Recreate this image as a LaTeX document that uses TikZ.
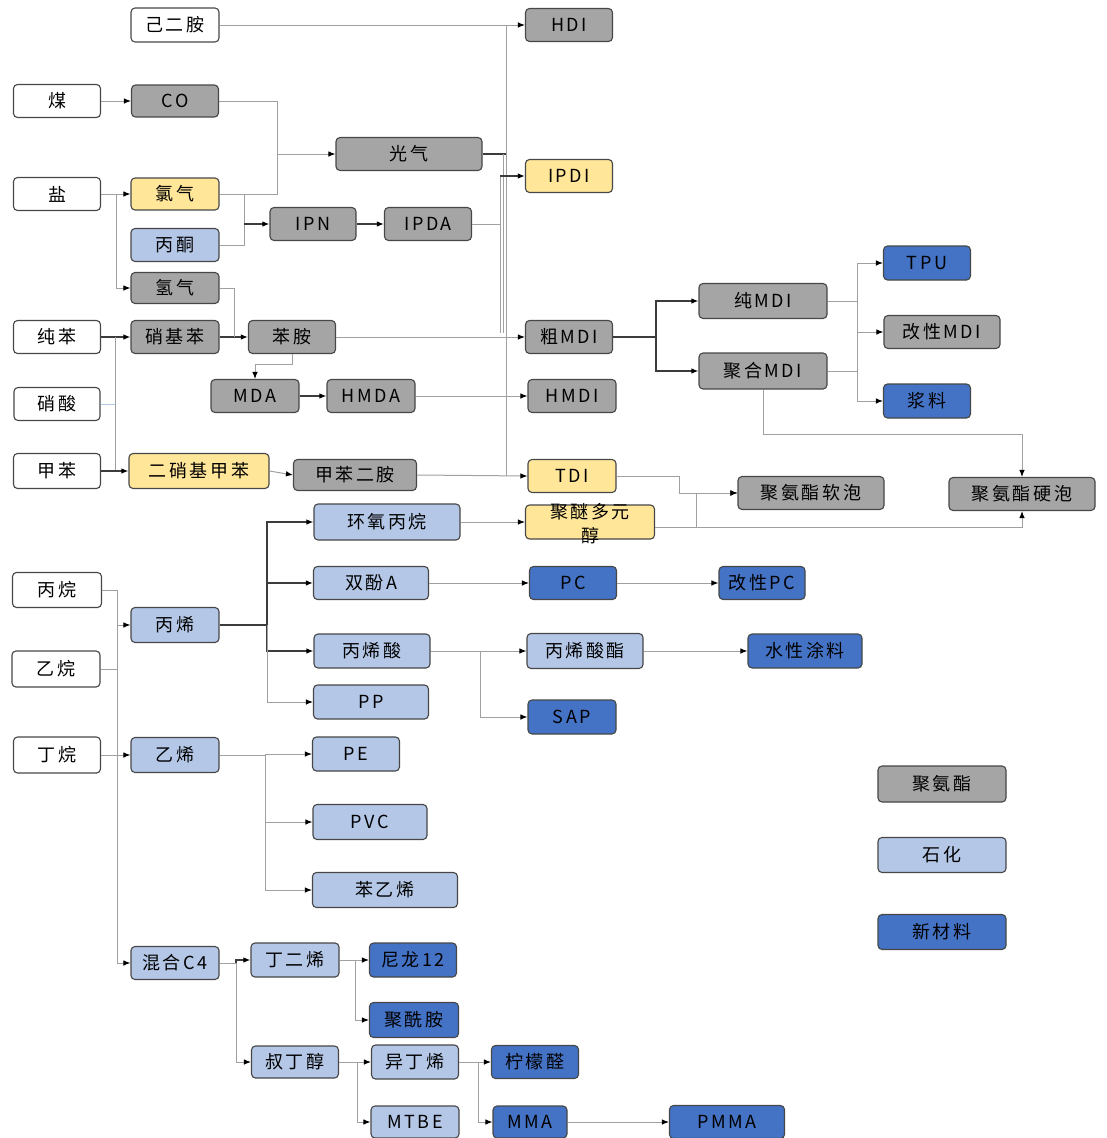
\documentclass[tikz,border=0pt]{standalone}
\usepackage{fontspec}
\newfontfamily\cjk[LetterSpace=14]{Noto Sans CJK SC}
\usetikzlibrary{arrows.meta}
\definecolor{boxgray}{RGB}{165,165,165}
\definecolor{boxyel}{RGB}{255,230,153}
\definecolor{boxlb}{RGB}{180,199,231}
\definecolor{boxblue}{RGB}{68,114,196}
\definecolor{linegray}{RGB}{160,160,160}
\definecolor{linedark}{RGB}{60,60,60}
\definecolor{linelb}{RGB}{180,199,231}
\tikzset{
  base/.style={draw=black!72, rounded corners=4pt, line width=1.1pt, inner sep=0pt,
    font=\cjk\fontsize{18}{22}\selectfont, text=black},
  wbox/.style={base, fill=white},
  gbox/.style={base, fill=boxgray},
  ybox/.style={base, fill=boxyel},
  lbox/.style={base, fill=boxlb},
  bbox/.style={base, fill=boxblue},
  sz/.style 2 args={minimum width=#1pt, minimum height=#2pt},
  lc/.style={draw=linegray, line width=1pt},
  dc/.style={draw=linedark, line width=1.3pt},
  lbl/.style={draw=linelb, line width=1pt},
  arr/.style={-{Latex[length=7pt,width=5.5pt,color=black]}},
}
\begin{document}
\begin{tikzpicture}[x=1pt,y=-1pt]
\useasboundingbox (0,0) rectangle (1107,1138);
% ---------- nodes ----------
\node[wbox,sz={88}{34}] (jej) at (175,25) {己二胺};
\node[gbox,sz={87}{33}] (hdi) at (569,25) {HDI};
\node[wbox,sz={87}{33}] (mei) at (57,101) {煤};
\node[gbox,sz={87}{32}] (co) at (175,101) {CO};
\node[gbox,sz={146}{33}] (gq) at (409,154) {光气};
\node[wbox,sz={87}{33}] (yan) at (57,194) {盐};
\node[ybox,sz={88}{32}] (lq) at (175,194) {氯气};
\node[ybox,sz={87}{33}] (ipdi) at (569,176) {IPDI};
\node[gbox,sz={86}{33}] (ipn) at (313,224) {IPN};
\node[gbox,sz={87}{33}] (ipda) at (428,224) {IPDA};
\node[lbox,sz={88}{33}] (bt) at (175,245) {丙酮};
\node[gbox,sz={88}{31}] (qq) at (175,288) {氢气};
\node[wbox,sz={87}{33}] (cb) at (57,337) {纯苯};
\node[gbox,sz={88}{33}] (xjb) at (175,337) {硝基苯};
\node[gbox,sz={87}{33}] (ba) at (292,337) {苯胺};
\node[gbox,sz={87}{33}] (cmdi) at (569,337) {粗MDI};
\node[gbox,sz={128}{35}] (pmdi) at (763,301) {纯MDI};
\node[gbox,sz={128}{36}] (jmdi) at (763,371) {聚合MDI};
\node[bbox,sz={87}{34}] (tpu) at (927,263) {TPU};
\node[gbox,sz={116}{33}] (gmdi) at (942,332) {改性MDI};
\node[bbox,sz={87}{34}] (jl) at (927,401) {浆料};
\node[wbox,sz={86}{33}] (xs) at (57,404) {硝酸};
\node[gbox,sz={88}{33}] (mda) at (255,396) {MDA};
\node[gbox,sz={88}{33}] (hmda) at (371,396) {HMDA};
\node[gbox,sz={88}{33}] (hmdi) at (572,396) {HMDI};
\node[wbox,sz={87}{35}] (jb) at (57,471) {甲苯};
\node[ybox,sz={140}{35}] (dnt) at (199,471) {二硝基甲苯};
\node[gbox,sz={123}{31}] (tda) at (355,475) {甲苯二胺};
\node[ybox,sz={88}{33}] (tdi) at (572,476) {TDI};
\node[gbox,sz={146}{33}] (rp) at (811,493) {聚氨酯软泡};
\node[gbox,sz={146}{33}] (yp) at (1022,494) {聚氨酯硬泡};
\node[lbox,sz={146}{36}] (hy) at (387,522) {环氧丙烷};
\node[ybox,sz={129}{34}] (pol) at (590,522) {\raisebox{-8pt}[0pt][0pt]{\renewcommand\arraystretch{1.12}\begin{tabular}{@{}c@{}}聚醚多元\\醇\end{tabular}}};
\node[wbox,sz={89}{35}] (bw) at (57,590) {丙烷};
\node[lbox,sz={88}{35}] (bx) at (175,625) {丙烯};
\node[lbox,sz={115}{33}] (bpa) at (371,583) {双酚A};
\node[bbox,sz={87}{33}] (pc) at (573,583) {PC};
\node[bbox,sz={86}{33}] (gpc) at (762,583) {改性PC};
\node[lbox,sz={116}{34}] (bxs) at (372,651) {丙烯酸};
\node[lbox,sz={116}{35}] (bxz) at (585,651) {丙烯酸酯};
\node[bbox,sz={114}{34}] (sxtl) at (805,651) {水性涂料};
\node[lbox,sz={115}{34}] (pp) at (371,702) {PP};
\node[bbox,sz={88}{34}] (sap) at (572,717) {SAP};
\node[wbox,sz={88}{36}] (yw) at (56,669) {乙烷};
\node[wbox,sz={87}{36}] (dw) at (57,755) {丁烷};
\node[lbox,sz={88}{35}] (yx) at (175,755) {乙烯};
\node[lbox,sz={87}{34}] (pe) at (356,754) {PE};
\node[lbox,sz={114}{35}] (pvc) at (370,822) {PVC};
\node[lbox,sz={145}{35}] (byx) at (385,890) {苯乙烯};
\node[gbox,sz={128}{36}] (lg1) at (942,784) {聚氨酯};
\node[lbox,sz={128}{35}] (lg2) at (942,855) {石化};
\node[bbox,sz={128}{35}] (lg3) at (942,932) {新材料};
\node[lbox,sz={88}{33}] (c4) at (175,963) {混合C4};
\node[lbox,sz={88}{34}] (bde) at (295,960) {丁二烯};
\node[bbox,sz={87}{34}] (ny) at (413,960) {尼龙12};
\node[bbox,sz={89}{35}] (pa) at (414,1020) {聚酰胺};
\node[lbox,sz={87}{32}] (tba) at (295,1062) {叔丁醇};
\node[lbox,sz={87}{34}] (ib) at (415,1062) {异丁烯};
\node[bbox,sz={87}{33}] (nm) at (535,1062) {柠檬醛};
\node[lbox,sz={88}{32}] (mtbe) at (415,1122) {MTBE};
\node[bbox,sz={74}{32}] (mma) at (530,1122) {MMA};
\node[bbox,sz={115}{33}] (pmma) at (727,1122) {PMMA};
% ---------- junction coordinates ----------
\coordinate (j1) at (277,154);
\coordinate (j2) at (244,224);
\coordinate (yb) at (116,288);
\coordinate (a1) at (506,25);
\coordinate (a2) at (506,476);
\coordinate (b1) at (503,154);
\coordinate (b2) at (503,333);
\coordinate (c1) at (500,176);
\coordinate (c2) at (500,333);
\coordinate (nb) at (115,471);
\coordinate (h1) at (234,337);
\coordinate (m1) at (255,364);
\coordinate (k1) at (656,337);
\coordinate (k2) at (857,301);
\coordinate (k3) at (763,434);
\coordinate (t1) at (679,493);
\coordinate (p1) at (696,527);
\coordinate (v1) at (117,590);
\coordinate (v2) at (117,963);
\coordinate (r1) at (267,625);
\coordinate (s1) at (480,651);
\coordinate (e1) at (265,755);
\coordinate (f1) at (236,963);
\coordinate (g1) at (355,960);
\coordinate (g2) at (357,1062);
\coordinate (g3) at (478,1062);
% ---------- connectors ----------
\draw[lc,arr] (jej.east) -- (hdi.west);
\draw[lc,arr] (mei.east) -- (co.west);
\draw[lc,arr] (co.east) -| (j1) -- (gq.west);
\draw[lc] (lq.east) -| (j1);
\draw[lc] (lq.east) -| (j2);
\draw[lc] (bt.east) -| (j2);
\draw[dc,arr] (j2) -- (ipn.west);
\draw[dc,arr] (ipn.east) -- (ipda.west);
\draw[lc,arr] (yan.east) -- (lq.west);
\draw[lc,arr] (yb |- yan.east) -- (yb) -- (qq.west);
% isocyanate bus
\draw[lc] (a1) -- (a2);
\draw[dc] (gq.east) -- (gq.east -| a1);
\draw[lc] (b1) -- (b2);
\draw[lc] (c1) -- (c2);
\draw[lc] (ipda.east) -- (ipda.east -| c1);
\draw[dc,arr] (c1) -- (ipdi.west);
% benzene chain
\draw[dc,arr] (cb.east) -- (xjb.west);
\draw[lc] (nb |- cb.east) -- (nb);
\draw[dc,arr] (jb.east) -- (dnt.west);
\draw[lbl] (xs.east) -- (xs.east -| nb);
\draw[dc,arr] (xjb.east) -- (ba.west);
\draw[lc] (qq.east) -| (h1);
\draw[lc,arr] (ba.south) |- (m1) -- (mda.north);
\draw[dc,arr] (mda.east) -- (hmda.west);
\draw[lc,arr] (hmda.east) -- (hmdi.west);
\draw[lc,arr] (ba.east) -- (cmdi.west);
\draw[lc,arr] (dnt.east) -- (tda.west);
\draw[lc,arr] (tda.east) -- (tdi.west);
% MDI
\draw[dc] (cmdi.east) -- (k1);
\draw[dc,arr] (k1) |- (pmdi.west);
\draw[dc,arr] (k1) |- (jmdi.west);
\draw[lc] (pmdi.east) -- (k2);
\draw[lc,arr] (k2) |- (tpu.west);
\draw[lc,arr] (k2) |- (jl.west);
\draw[lc,arr] (k2 |- gmdi.west) -- (gmdi.west);
\draw[lc] (jmdi.east) -- (jmdi.east -| k2);
\draw[lc,arr] (jmdi.south) -- (k3) -| (yp.north);
% foams
\draw[lc,arr] (tdi.east) -| (t1) -- (rp.west);
\draw[lc,arr] (pol.east |- p1) -| (yp.south);
\draw[lc,arr] (p1) |- (rp.west);
\draw[lc,arr] (hy.east) -- (pol.west);
% propane / ethane / butane
\draw[lc] (bw.east) -| (v1) -- (v2);
\draw[lc,arr] (v1 |- bx.west) -- (bx.west);
\draw[lc] (yw.east) -- (yw.east -| v1);
\draw[lc,arr] (dw.east) -- (yx.west);
\draw[lc,arr] (v2) -- (c4.west);
% propylene
\draw[dc] (bx.east) -- (r1);
\draw[dc,arr] (r1) |- (hy.west);
\draw[dc,arr] (r1) |- (bpa.west);
\draw[dc,arr] (r1) |- (bxs.west);
\draw[lc,arr] (r1) |- (pp.west);
\draw[lc,arr] (bpa.east) -- (pc.west);
\draw[lc,arr] (pc.east) -- (gpc.west);
\draw[lc,arr] (bxs.east) -- (bxz.west);
\draw[lc,arr] (s1) |- (sap.west);
\draw[lc,arr] (bxz.east) -- (sxtl.west);
% ethylene
\draw[lc] (yx.east) -- (e1);
\draw[lc,arr] (e1) |- (pe.west);
\draw[lc,arr] (e1) |- (pvc.west);
\draw[lc,arr] (e1) |- (byx.west);
% C4
\draw[lc] (c4.east) -- (f1);
\draw[dc,arr] (f1) |- (bde.west);
\draw[lc,arr] (f1) |- (tba.west);
\draw[lc,arr] (bde.east) -- (ny.west);
\draw[lc,arr] (g1) |- (pa.west);
\draw[lc,arr] (tba.east) -- (ib.west);
\draw[lc,arr] (g2) |- (mtbe.west);
\draw[lc,arr] (ib.east) -- (nm.west);
\draw[lc,arr] (g3) |- (mma.west);
\draw[lc,arr] (mma.east) -- (pmma.west);
\end{tikzpicture}
\end{document}
